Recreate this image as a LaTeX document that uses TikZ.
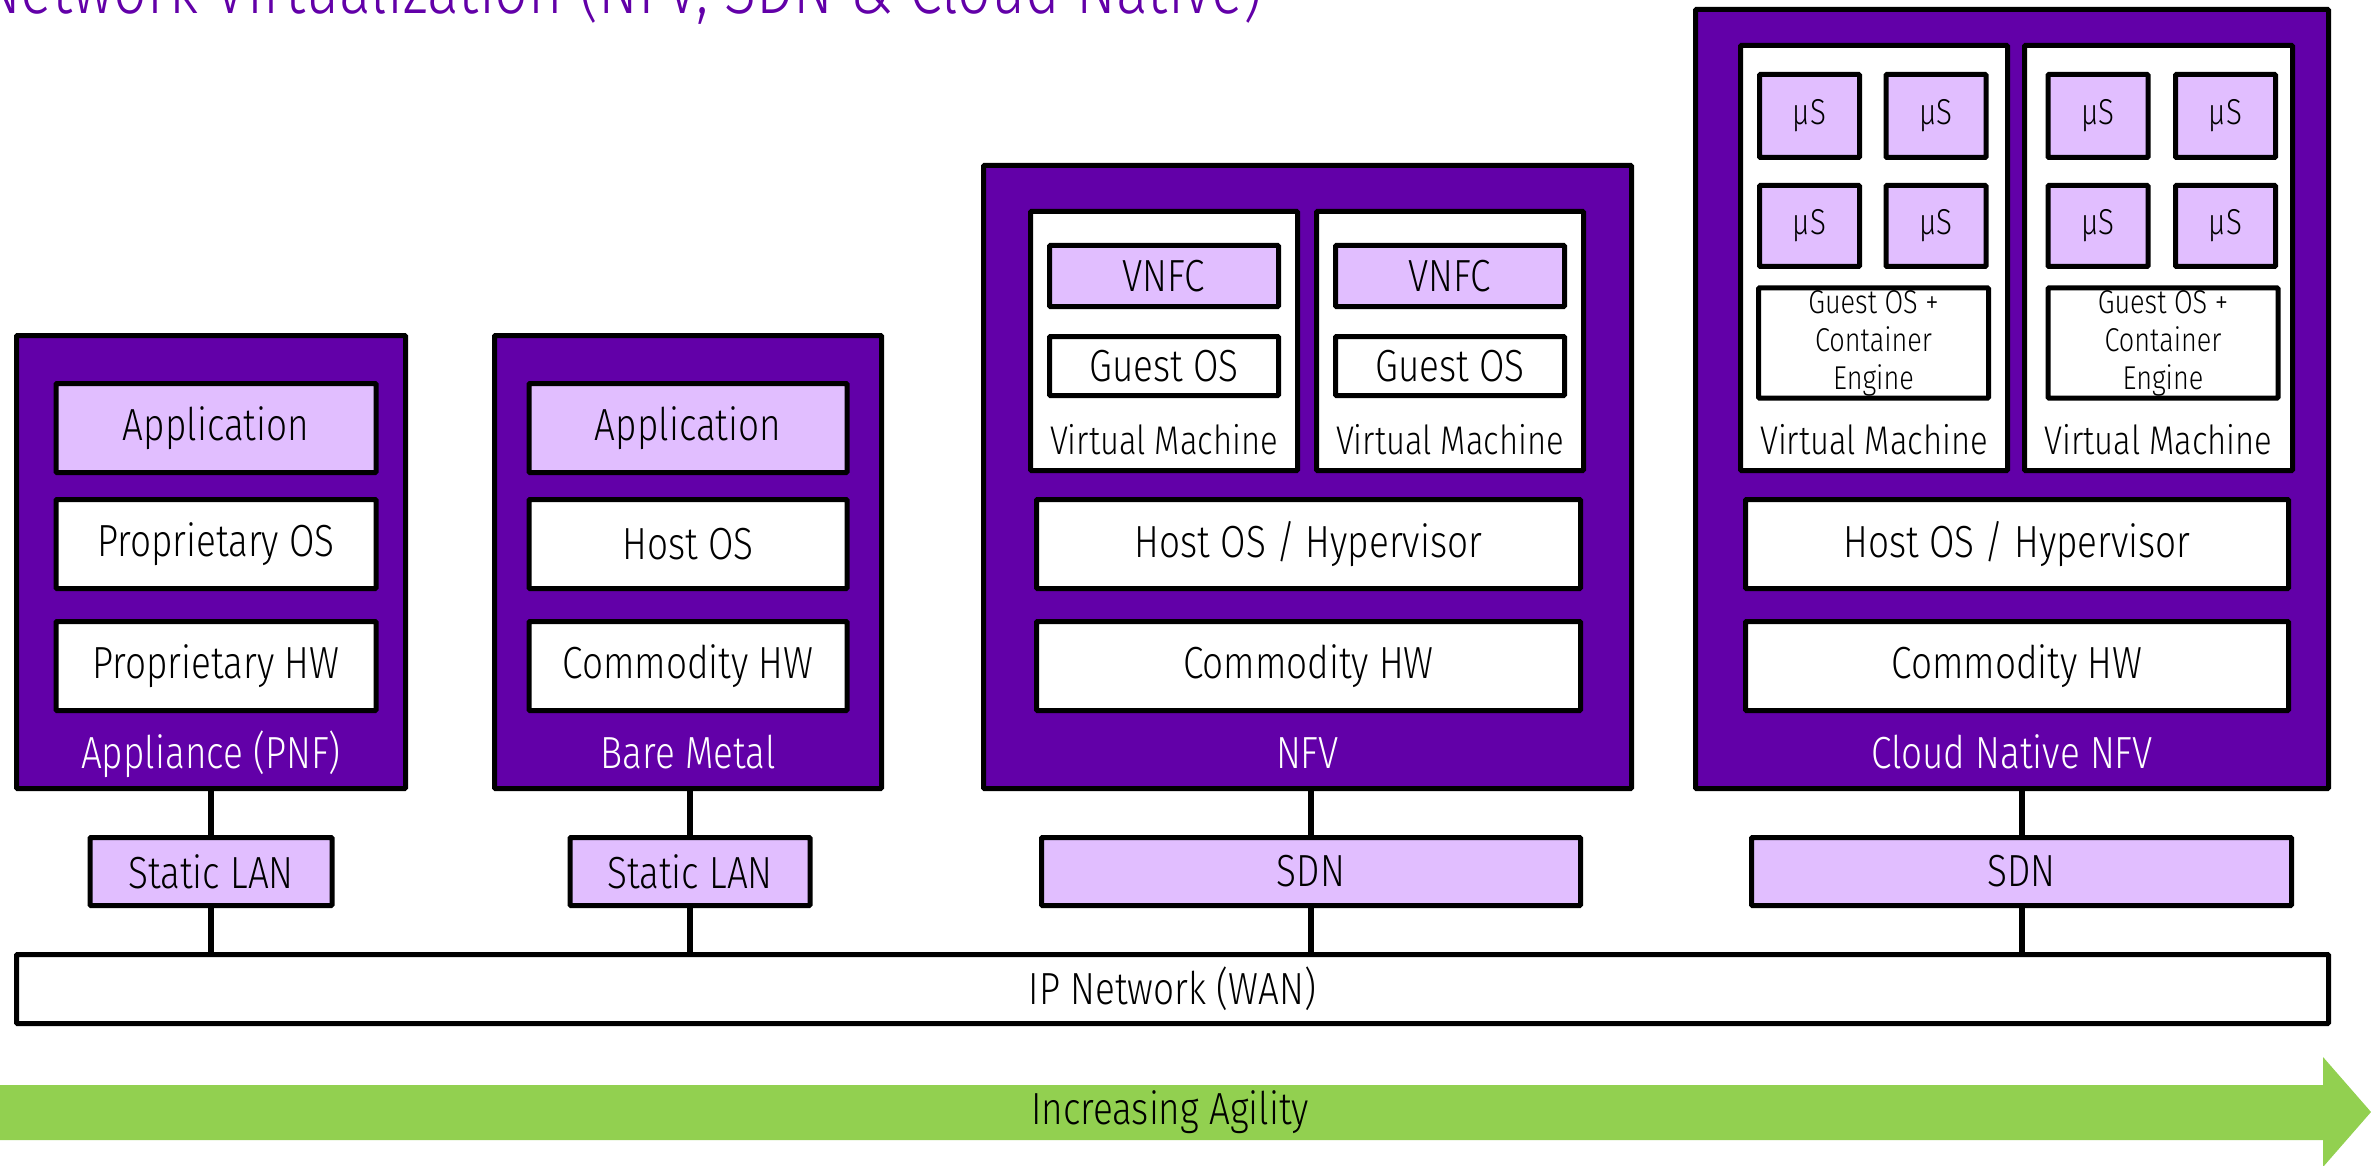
\documentclass[tikz,border=0pt]{standalone}
\usepackage{fontspec}
\setmainfont{Fira Sans Light}[FakeStretch=0.82]
\usepackage{xcolor}
\usepackage{tikz}
\usetikzlibrary{positioning}

\definecolor{nfvpurple}{HTML}{6200A8}
\definecolor{lilac}{HTML}{E1BEFF}
\definecolor{agilegreen}{HTML}{92D050}

\begin{document}
\begin{tikzpicture}[
    x=1pt, y=-1pt,
    every node/.style={font=\fontsize{45}{50}\selectfont, inner sep=0pt},
    sz/.style 2 args={minimum width=#1pt, minimum height=#2pt},
    frame/.style={draw, line width=5pt, fill=nfvpurple, rounded corners=1pt},
    layer/.style={draw, line width=5pt, fill=white, rounded corners=1pt, align=center},
    comp/.style={layer, fill=lilac},
    caption/.style={anchor=base, text=white},
    small/.style={font=\fontsize{36}{38}\selectfont},
    tiny/.style={font=\fontsize{33}{38}\selectfont},
    vmlabel/.style={font=\fontsize{40}{44}\selectfont},
    link/.style={line width=6pt}
]
\useasboundingbox (0,0) rectangle (2371,1166);

\node[anchor=base west, text=nfvpurple, font=\fontsize{72}{78}\selectfont] (title) at (-19,14)
    {Network Virtualization (NFV, SDN \& Cloud Native)};

% the four deployment stacks
\node[frame, sz={389}{453}] (pnf) at (211,562) {};
\node[frame, sz={387}{453}] (bare) at (688,562) {};
\node[frame, sz={648}{623}] (nfv) at (1307.5,477) {};
\node[frame, sz={633}{779}] (cnf) at (2012,399) {};

% appliance
\node[comp, sz={320}{89}] (app1) at (216,428) {Application};
\node[layer, sz={320}{89}] (pos) at (216,544) {Proprietary OS};
\node[layer, sz={320}{89}] (phw) at (216,666) {Proprietary HW};
\node[caption] (pnf_l) at (211,768) {Appliance (PNF)};

% bare metal
\node[comp, sz={318}{89}] (app2) at (688,428) {Application};
\node[layer, sz={318}{89}] (hos) at (688,544) {Host OS};
\node[layer, sz={318}{89}] (chw2) at (688,666) {Commodity HW};
\node[caption] (bare_l) at (688,768) {Bare Metal};

% nfv
\node[layer, sz={267}{259}] (vm1) at (1164,341) {};
\node[layer, sz={267}{259}] (vm2) at (1450,341) {};
\node[comp, sz={229}{61}] (vnfc1) at (1164,276) {VNFC};
\node[layer, sz={229}{59}] (gos1) at (1164,366) {Guest OS};
\node[vmlabel] (vm1_l) at (1164,440) {Virtual Machine};
\node[comp, sz={229}{61}] (vnfc2) at (1450,276) {VNFC};
\node[layer, sz={229}{59}] (gos2) at (1450,366) {Guest OS};
\node[vmlabel] (vm2_l) at (1450,440) {Virtual Machine};
\node[layer, sz={544}{89}] (hyp3) at (1308.5,544) {Host OS / Hypervisor};
\node[layer, sz={544}{89}] (chw3) at (1308.5,666) {Commodity HW};
\node[caption] (nfv_l) at (1307.5,768) {NFV};

% cloud native nfv
\node[layer, sz={267}{425}] (vm3) at (1874,258) {};
\node[layer, sz={268}{425}] (vm4) at (2158.5,258) {};
\node[comp, small, sz={100}{83}] (ms1) at (1809.5,116) {µS};
\node[comp, small, sz={100}{83}] (ms2) at (1936,116) {µS};
\node[comp, small, sz={100}{81}] (ms3) at (1809.5,226) {µS};
\node[comp, small, sz={100}{81}] (ms4) at (1936,226) {µS};
\node[layer, tiny, sz={230}{110}] (ce1) at (1873.5,343) {Guest OS +\\Container\\Engine};
\node[vmlabel] (vm3_l) at (1874,440) {Virtual Machine};
\node[comp, small, sz={100}{83}] (ms5) at (2098,116) {µS};
\node[comp, small, sz={100}{83}] (ms6) at (2225.5,116) {µS};
\node[comp, small, sz={100}{81}] (ms7) at (2098,226) {µS};
\node[comp, small, sz={100}{81}] (ms8) at (2225.5,226) {µS};
\node[layer, tiny, sz={230}{110}] (ce2) at (2163,343) {Guest OS +\\Container\\Engine};
\node[vmlabel] (vm4_l) at (2158.5,440) {Virtual Machine};
\node[layer, sz={543}{89}] (hyp4) at (2017,544) {Host OS / Hypervisor};
\node[layer, sz={543}{89}] (chw4) at (2017,666) {Commodity HW};
\node[caption] (cnf_l) at (2012,768) {Cloud Native NFV};

% networking
\node[comp, sz={242}{68}] (lan1) at (211,871.5) {Static LAN};
\node[comp, sz={240}{68}] (lan2) at (690,871.5) {Static LAN};
\node[comp, sz={539}{68}] (sdn1) at (1311,871.5) {SDN};
\node[comp, sz={540}{68}] (sdn2) at (2021.5,871.5) {SDN};
\node[layer, sz={2312}{69}] (wan) at (1172.5,989) {IP Network (WAN)};

\draw[link] (lan1.north) -- (lan1.north |- pnf.south);
\draw[link] (lan2.north) -- (lan2.north |- bare.south);
\draw[link] (sdn1.north) -- (sdn1.north |- nfv.south);
\draw[link] (sdn2.north) -- (sdn2.north |- cnf.south);
\draw[link] (lan1.south) -- (lan1.south |- wan.north);
\draw[link] (lan2.south) -- (lan2.south |- wan.north);
\draw[link] (sdn1.south) -- (sdn1.south |- wan.north);
\draw[link] (sdn2.south) -- (sdn2.south |- wan.north);

% agility arrow
\fill[agilegreen] (0,1085) -- (2323,1085) -- (2323,1057) -- (2371,1112)
    -- (2323,1167) -- (2323,1140) -- (0,1140) -- cycle;
\node (agility) at (1170,1112.5) {Increasing Agility};
\end{tikzpicture}
\end{document}
